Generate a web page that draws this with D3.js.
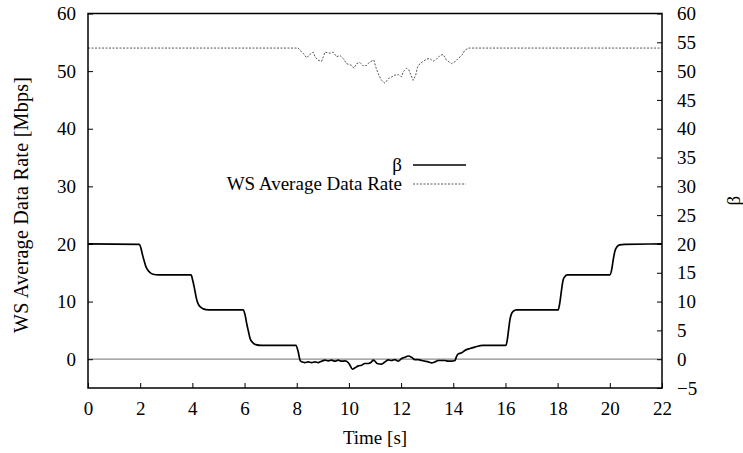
<!DOCTYPE html>
<html>
<head>
<meta charset="utf-8">
<script src="https://cdn.jsdelivr.net/npm/d3@7"></script>
<style>
  html, body { margin: 0; padding: 0; background: #fff; }
  svg { display: block; }
</style>
</head>
<body>
<svg id="chart" width="743" height="453"></svg>
<script>
// Time ticks and axis ticks
const timeTicks = [0, 2, 4, 6, 8, 10, 12, 14, 16, 18, 20, 22];
const leftTicks = [0, 10, 20, 30, 40, 50, 60];
const rightTicks = [-5, 0, 5, 10, 15, 20, 25, 30, 35, 40, 45, 50, 55, 60];

// beta over time [s]
const betaTime = [
  0, 1.97, 2.03, 2.09, 2.16, 2.22, 2.29, 2.38, 2.5, 2.69,
  3.95, 4.01, 4.08, 4.14, 4.2, 4.29, 4.42, 4.61,
  5.95, 6.02, 6.08, 6.15, 6.21, 6.3, 6.43, 6.66,
  7.97, 8.06, 8.13, 8.19, 8.31, 8.44, 8.57, 8.7, 8.82, 8.95, 9.08, 9.21, 9.34, 9.46, 9.59, 9.72, 9.85, 9.97,
  10.04, 10.14, 10.23, 10.36, 10.49, 10.61, 10.74, 10.87, 10.93, 11.0, 11.08, 11.25, 11.38, 11.51, 11.64, 11.76, 11.89,
  12.02, 12.15, 12.27, 12.4, 12.53, 12.66, 12.79, 12.91, 13.04, 13.17, 13.3, 13.42, 13.55, 13.68, 13.81, 13.93, 14.06,
  14.13, 14.19, 14.32, 14.44, 14.64, 14.83, 15.13,
  16.02, 16.07, 16.12, 16.17, 16.23, 16.3, 16.42, 16.62,
  18.02, 18.08, 18.15, 18.21, 18.28, 18.36, 18.59,
  20.0, 20.07, 20.13, 20.19, 20.28, 20.38, 20.57, 22
];
const betaValue = [
  20, 19.94, 19.25, 18.1, 16.94, 16.07, 15.49, 15.03, 14.74, 14.62,
  14.62, 13.76, 12.3, 10.87, 9.83, 9.13, 8.73, 8.55,
  8.55, 7.69, 6.24, 4.8, 3.64, 2.95, 2.54, 2.4,
  2.4, 1.2, -0.2, -0.46, -0.58, -0.46, -0.58, -0.46, -0.58, -0.35, -0.17, -0.29, -0.17, -0.35, -0.17, -0.35, -0.29, -0.58,
  -1.04, -1.73, -1.5, -1.16, -1.04, -0.75, -0.75, -0.46, -0.17, -0.35, -0.75, -0.87, -0.5, -0.12, -0.23, -0.06, -0.35,
  0.12, 0.35, 0.55, 0.35, -0.06, -0.06, -0.23, -0.35, -0.46, -0.64, -0.46, -0.23, -0.23, -0.23, -0.35, -0.35, -0.23,
  0.52, 0.92, 1.1, 1.5, 1.85, 2.1, 2.4,
  2.4, 3.35, 5.09, 6.82, 7.86, 8.32, 8.55, 8.55,
  8.55, 9.71, 12.02, 13.76, 14.34, 14.62, 14.62,
  14.62, 15.49, 17.23, 18.67, 19.54, 19.83, 19.94, 20
];

// WS average data rate [Mbps] over time [s]
const rateTime = [
  0, 8.06, 8.12, 8.25, 8.38, 8.48, 8.63, 8.7, 8.82, 8.95, 9.02, 9.08, 9.27, 9.4, 9.53, 9.66, 9.78, 9.91,
  10.1, 10.19, 10.3, 10.42, 10.55, 10.68, 10.8, 10.96, 11.03, 11.12, 11.25, 11.38, 11.51, 11.64, 11.76, 11.89,
  12.02, 12.08, 12.21, 12.3, 12.38, 12.46, 12.56, 12.63, 12.72, 12.85, 12.98, 13.1, 13.23, 13.36, 13.49, 13.61,
  13.74, 13.93, 14.06, 14.19, 14.34, 14.44, 14.57, 22
];
const rateValue = [
  54, 54, 53.6, 53.1, 52.3, 52.8, 53.3, 52.5, 51.9, 51.7, 52.5, 53.3, 53.1, 53.3, 52.5, 52.7, 52.2, 51.3,
  51.0, 50.5, 51.3, 51.5, 50.9, 51.0, 51.6, 51.9, 50.7, 49.6, 48.4, 47.9, 48.7, 49.0, 49.3, 49.4,
  49.0, 49.9, 50.5, 50.2, 49.3, 48.4, 49.3, 50.7, 51.3, 51.7, 52.1, 52.2, 51.7, 52.1, 52.7, 52.9,
  51.9, 51.3, 51.6, 52.2, 52.8, 53.6, 54.0, 54
];

const legendLabels = ["β", "WS Average Data Rate"];

const font = "'Liberation Serif', 'Times New Roman', serif";
const fontSize = 19;

const svg = d3.select("#chart");
const plot = { left: 88, right: 662, top: 13.5, bottom: 388 };

const x = d3.scaleLinear().domain([0, 22]).range([plot.left, plot.right]);
const yLeft = d3.scaleLinear().domain([-5, 60]).range([plot.bottom, plot.top]);
const yRight = d3.scaleLinear().domain([-5, 60]).range([plot.bottom, plot.top]);

function styleAxis(g) {
  g.select(".domain").remove();
  g.selectAll(".tick line").attr("stroke", "#000").attr("stroke-width", 1);
  g.selectAll("text")
    .attr("font-family", font)
    .attr("font-size", fontSize)
    .attr("fill", "#000");
  g.attr("font-family", null).attr("font-size", null);
}

// zero line
svg.append("line")
  .attr("x1", x(0)).attr("x2", x(22))
  .attr("y1", yLeft(0)).attr("y2", yLeft(0))
  .attr("stroke", "#8c8c8c").attr("stroke-width", 1.2);

// axes with inward ticks
svg.append("g")
  .attr("transform", `translate(${plot.left},0)`)
  .call(d3.axisLeft(yLeft).tickValues(leftTicks).tickSize(-5).tickPadding(12))
  .call(styleAxis);

svg.append("g")
  .attr("transform", `translate(${plot.right},0)`)
  .call(d3.axisRight(yRight).tickValues(rightTicks).tickSize(-5).tickPadding(15))
  .call(styleAxis);

svg.append("g")
  .attr("transform", `translate(0,${plot.bottom})`)
  .call(d3.axisBottom(x).tickValues(timeTicks).tickSize(-5).tickPadding(14))
  .call(styleAxis);

// data rate (dotted)
const rateData = rateTime.map((t, i) => [t, rateValue[i]]);
svg.append("path")
  .datum(rateData)
  .attr("fill", "none")
  .attr("stroke", "#555")
  .attr("stroke-width", 1)
  .attr("stroke-dasharray", "2,1.5")
  .attr("d", d3.line().x(d => x(d[0])).y(d => yLeft(d[1])));

// beta (solid)
const betaData = betaTime.map((t, i) => [t, betaValue[i]]);
svg.append("path")
  .datum(betaData)
  .attr("fill", "none")
  .attr("stroke", "#000")
  .attr("stroke-width", 1.7)
  .attr("stroke-linejoin", "round")
  .attr("d", d3.line().curve(d3.curveMonotoneX).x(d => x(d[0])).y(d => yRight(d[1])));

// border
svg.append("rect")
  .attr("x", plot.left).attr("y", plot.top)
  .attr("width", plot.right - plot.left).attr("height", plot.bottom - plot.top)
  .attr("fill", "none").attr("stroke", "#000").attr("stroke-width", 1.5);

// axis titles
svg.append("text")
  .attr("transform", `translate(28,205) rotate(-90)`)
  .attr("text-anchor", "middle")
  .attr("font-family", font).attr("font-size", 20)
  .attr("textLength", 256).attr("lengthAdjust", "spacing")
  .text("WS Average Data Rate [Mbps]");

svg.append("text")
  .attr("transform", `translate(740,${(plot.top + plot.bottom) / 2}) rotate(-90)`)
  .attr("text-anchor", "middle")
  .attr("font-family", font).attr("font-size", fontSize)
  .text("β");

svg.append("text")
  .attr("x", (plot.left + plot.right) / 2)
  .attr("y", 444)
  .attr("text-anchor", "middle")
  .attr("font-family", font).attr("font-size", fontSize)
  .text("Time [s]");

// legend
const legendRows = [
  { label: legendLabels[0], y: 165, stroke: "#000", width: 1.7, dash: null },
  { label: legendLabels[1], y: 184, stroke: "#555", width: 1, dash: "2,1.5" }
];
const lg = svg.append("g");
legendRows.forEach(r => {
  lg.append("text")
    .attr("x", 402).attr("y", r.y)
    .attr("dy", "0.33em")
    .attr("text-anchor", "end")
    .attr("font-family", font).attr("font-size", fontSize)
    .text(r.label);
  lg.append("line")
    .attr("x1", 413).attr("x2", 466)
    .attr("y1", r.y).attr("y2", r.y)
    .attr("stroke", r.stroke).attr("stroke-width", r.width)
    .attr("stroke-dasharray", r.dash);
});
</script>
</body>
</html>
